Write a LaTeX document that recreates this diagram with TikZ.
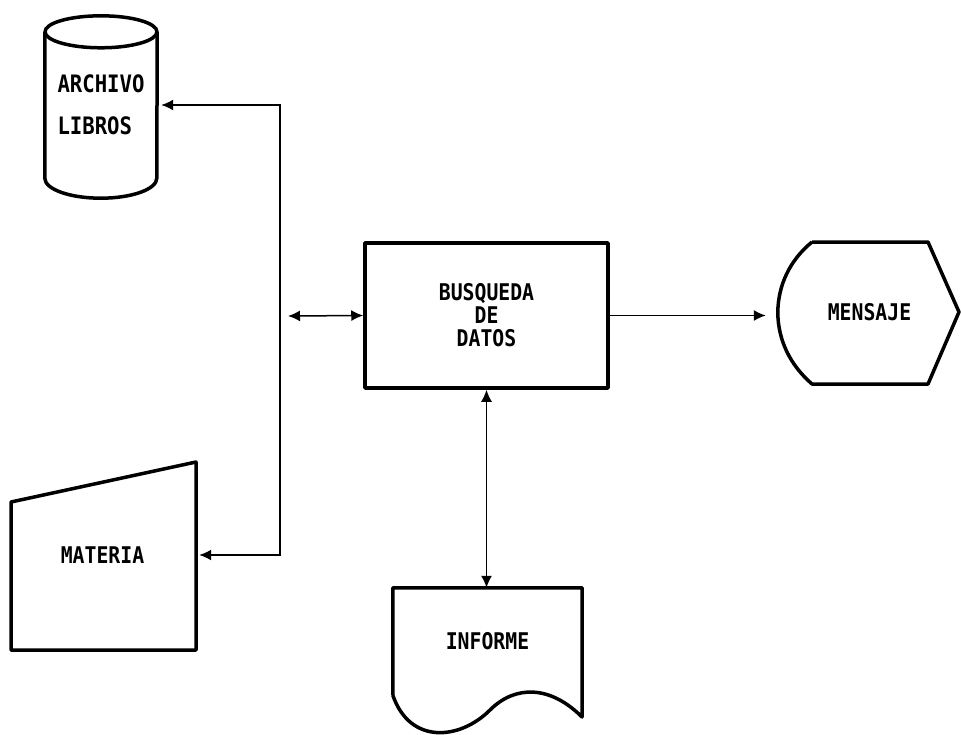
\documentclass[tikz,border=0pt]{standalone}
\usepackage{fontspec}
\newfontfamily\chartfont[FakeStretch=0.86]{DejaVu Sans Mono}
\usetikzlibrary{arrows.meta}

\tikzset{
  outline/.style={line width=3.5pt, line join=round},
  link/.style={line width=1.5pt},
  chartlabel/.style={font=\chartfont\bfseries\fontsize{23}{23}\selectfont, inner sep=0pt},
  >={Latex[length=12pt,width=11pt]},
}

\begin{document}
\begin{tikzpicture}[x=1pt,y=1pt]
    \useasboundingbox (0,0) rectangle (961,-734);

    \node[chartlabel, align=left, minimum width=112, minimum height=146,
          font=\chartfont\bfseries\fontsize{24}{42}\selectfont] (archivo) at (101,-105) {ARCHIVO\\LIBROS};
    \node[chartlabel, draw, outline, align=center, minimum width=243, minimum height=145] (busqueda) at (486.5,-315.5) {BUSQUEDA\\DE\\DATOS};
    \node[chartlabel, minimum width=183, minimum height=141] (mensaje) at (869.5,-312.5) {MENSAJE};
    \node[chartlabel, minimum width=185] (materia) at (102.5,-555) {MATERIA};
    \node[chartlabel, minimum width=189, minimum height=107] (informe) at (487.5,-641.5) {INFORME};

    % ARCHIVO LIBROS
    \draw[outline] (archivo.north) ellipse (56 and 16);
    \draw[outline] (archivo.north west) -- (archivo.south west) arc (180:360:56 and 20) -- (archivo.north east);

    % MATERIA
    \coordinate (M1) at (11,-502);
    \coordinate (M2) at (196,-462);
    \coordinate (M3) at (196,-650);
    \coordinate (M4) at (11,-650);
    \draw[outline] (M1) -- (M2) -- (M3) -- (M4) -- cycle;

    % MENSAJE
    \coordinate (D1) at (812,-242);
    \coordinate (D2) at (928,-242);
    \coordinate (D3) at (959,-312);
    \coordinate (D4) at (928,-384);
    \coordinate (D5) at (812,-384);
    \draw[outline] (D1) -- (D2) -- (D3) -- (D4) -- (D5)
        .. controls (790,-365) and (778,-340) .. (mensaje.west)
        .. controls (778,-285) and (790,-260) .. (D1);

    % INFORME
    \draw[outline] (informe.south west) -- (informe.north west) -- (informe.north east) -- (582,-717)
        .. controls (550,-685) and (515,-685) .. (490,-710)
        .. controls (460,-740) and (410,-745) .. (informe.south west);

    % connectors
    \coordinate (spine) at (280,-316);
    \coordinate (hub) at (288,-316);
    \draw[link, <->, shorten <=4pt, shorten >=4pt] (archivo.east) -| (spine) |- (materia.east);
    \draw[link, <->] (hub) -- (busqueda.west);
    \draw[link, ->, shorten >=12pt] (busqueda.east) -- (busqueda.east -| mensaje.west);
    \draw[link, <->] (busqueda.south) -- (busqueda.south |- informe.north);

\end{tikzpicture}
\end{document}
